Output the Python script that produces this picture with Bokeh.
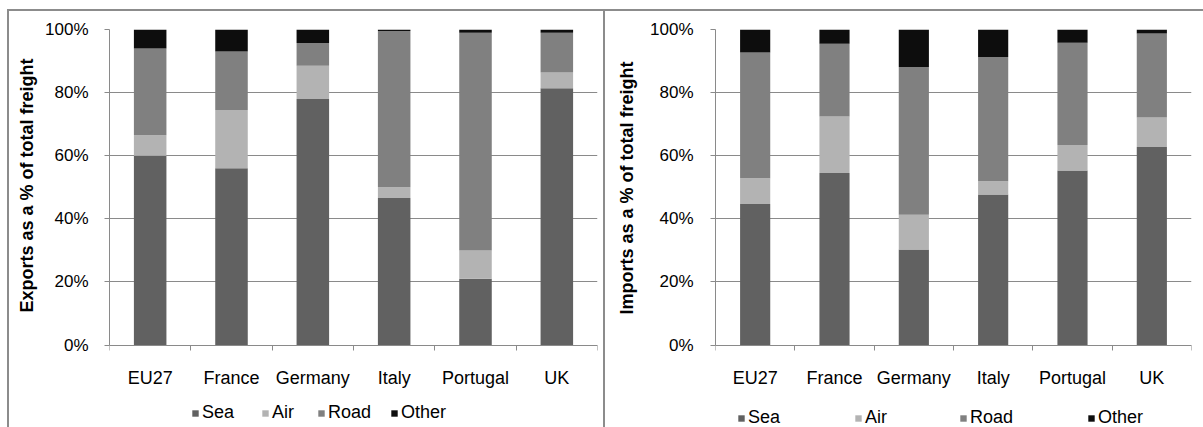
from bokeh.plotting import figure
from bokeh.models import (Range1d, LinearAxis, FixedTicker, NumeralTickFormatter,
                          Legend, LegendItem, ColumnDataSource, Title)
from bokeh.layouts import row
from bokeh.embed import file_html
from bokeh.resources import INLINE

# ---------------- data ----------------
countries = ["EU27", "France", "Germany", "Italy", "Portugal", "UK"]
modes = ["Sea", "Air", "Road", "Other"]

export_sea = [0.600, 0.560, 0.780, 0.466, 0.210, 0.814]
export_air = [0.065, 0.185, 0.105, 0.034, 0.090, 0.050]
export_road = [0.275, 0.185, 0.072, 0.495, 0.690, 0.126]
export_other = [0.060, 0.070, 0.043, 0.005, 0.010, 0.010]

import_sea = [0.447, 0.545, 0.303, 0.477, 0.553, 0.628]
import_air = [0.082, 0.179, 0.110, 0.042, 0.081, 0.093]
import_road = [0.398, 0.231, 0.468, 0.394, 0.324, 0.266]
import_other = [0.073, 0.045, 0.119, 0.087, 0.042, 0.013]

y_ticks = [0.0, 0.2, 0.4, 0.6, 0.8, 1.0]

colors = ["#616161", "#b3b3b3", "#808080", "#0d0d0d"]
GRAY = "#8a8a8a"
FONT = "Liberation Sans"

n = len(countries)
centers = [i + 0.5 for i in range(n)]          # category slot centres
boundaries = [float(i) for i in range(n + 1)]   # category slot edges

# plot area: 314 px for 0..100 %, plus 84 px below 0 % for axis labels and legend
Y_BOTTOM = -84 / 314


def make_panel(title, series, width, height, left, right, top, bar_width,
               legend_x, legend_y, title_offset, title_standoff, tick_standoff, styles):
    src = ColumnDataSource(dict(pos=centers, country=countries,
                                **dict(zip(modes, series))))
    p = figure(width=width, height=height,
               x_range=Range1d(0, n), y_range=Range1d(Y_BOTTOM, 1),
               x_axis_location=None,
               output_backend="svg", toolbar_location=None,
               min_border_left=left, min_border_right=right,
               min_border_top=top, min_border_bottom=0,
               outline_line_color=None, background_fill_color="white",
               border_fill_color="white", styles=styles)
    renderers = p.vbar_stack(modes, x="pos", width=bar_width, source=src,
                             fill_color=colors, line_color=None)

    # y axis
    ya = p.yaxis[0]
    ya.bounds = (0, 1)
    ya.ticker = FixedTicker(ticks=y_ticks)
    ya.formatter = NumeralTickFormatter(format="0%")
    ya.major_tick_in = 0
    ya.major_tick_out = 5
    ya.minor_tick_line_color = None
    ya.axis_line_color = GRAY
    ya.major_tick_line_color = GRAY
    ya.major_label_text_font = FONT
    ya.major_label_text_font_size = "17px"
    ya.major_label_text_color = "#000000"
    ya.major_label_standoff = tick_standoff

    # vertical axis title, anchored from the bottom of the plot area
    p.add_layout(Title(text=title, align="left", vertical_align="middle",
                       offset=title_offset, standoff=title_standoff,
                       text_font=FONT, text_font_style="bold",
                       text_font_size="18px", text_color="#000000"), "left")

    p.ygrid.ticker = FixedTicker(ticks=y_ticks)
    p.ygrid.grid_line_color = GRAY
    p.xgrid.visible = False

    # x axis at 0 %: labels at slot centres, tick marks at slot edges
    xa = LinearAxis(fixed_location=0,
                    ticker=FixedTicker(ticks=centers, minor_ticks=boundaries),
                    major_label_overrides={c: name for c, name in zip(centers, countries)},
                    axis_line_color=GRAY, major_tick_line_color=None,
                    minor_tick_line_color=GRAY,
                    major_tick_in=0, major_tick_out=0,
                    minor_tick_in=0, minor_tick_out=5,
                    major_label_text_font=FONT,
                    major_label_text_font_size="18px",
                    major_label_text_color="#000000",
                    major_label_standoff=18)
    p.add_layout(xa, "below")

    for i, m in enumerate(modes):
        leg = Legend(items=[LegendItem(label=m, renderers=[renderers[i]])],
                     location=(legend_x[i], legend_y),
                     orientation="horizontal", glyph_width=8, glyph_height=8,
                     label_standoff=3, padding=0, margin=0, spacing=0,
                     border_line_color=None, background_fill_alpha=0,
                     label_text_font=FONT, label_text_font_size="18px",
                     label_text_color="#000000", label_height=20)
        p.add_layout(leg)
    return p


p1 = make_panel("Exports as a % of total freight",
                [export_sea, export_air, export_road, export_other],
                width=598, height=418, left=100, right=10, top=18,
                bar_width=0.4, legend_x=[82, 152, 208, 281], legend_y=6,
                title_offset=117, title_standoff=10, tick_standoff=16,
                styles={"margin-left": "7px", "margin-top": "9px",
                        "border-left": "2px solid #8c8c8c",
                        "border-top": "2px solid #8c8c8c",
                        "border-right": "2px solid #8c8c8c"})
p2 = make_panel("Imports as a % of total freight",
                [import_sea, import_air, import_road, import_other],
                width=598, height=418, left=108, right=12, top=18,
                bar_width=0.38, legend_x=[22, 139, 244, 372], legend_y=1,
                title_offset=115, title_standoff=20, tick_standoff=17,
                styles={"margin-top": "9px",
                        "border-top": "2px solid #8c8c8c"})

layout = row(p1, p2, spacing=0)
open("out.html", "w").write(file_html(layout, INLINE))
